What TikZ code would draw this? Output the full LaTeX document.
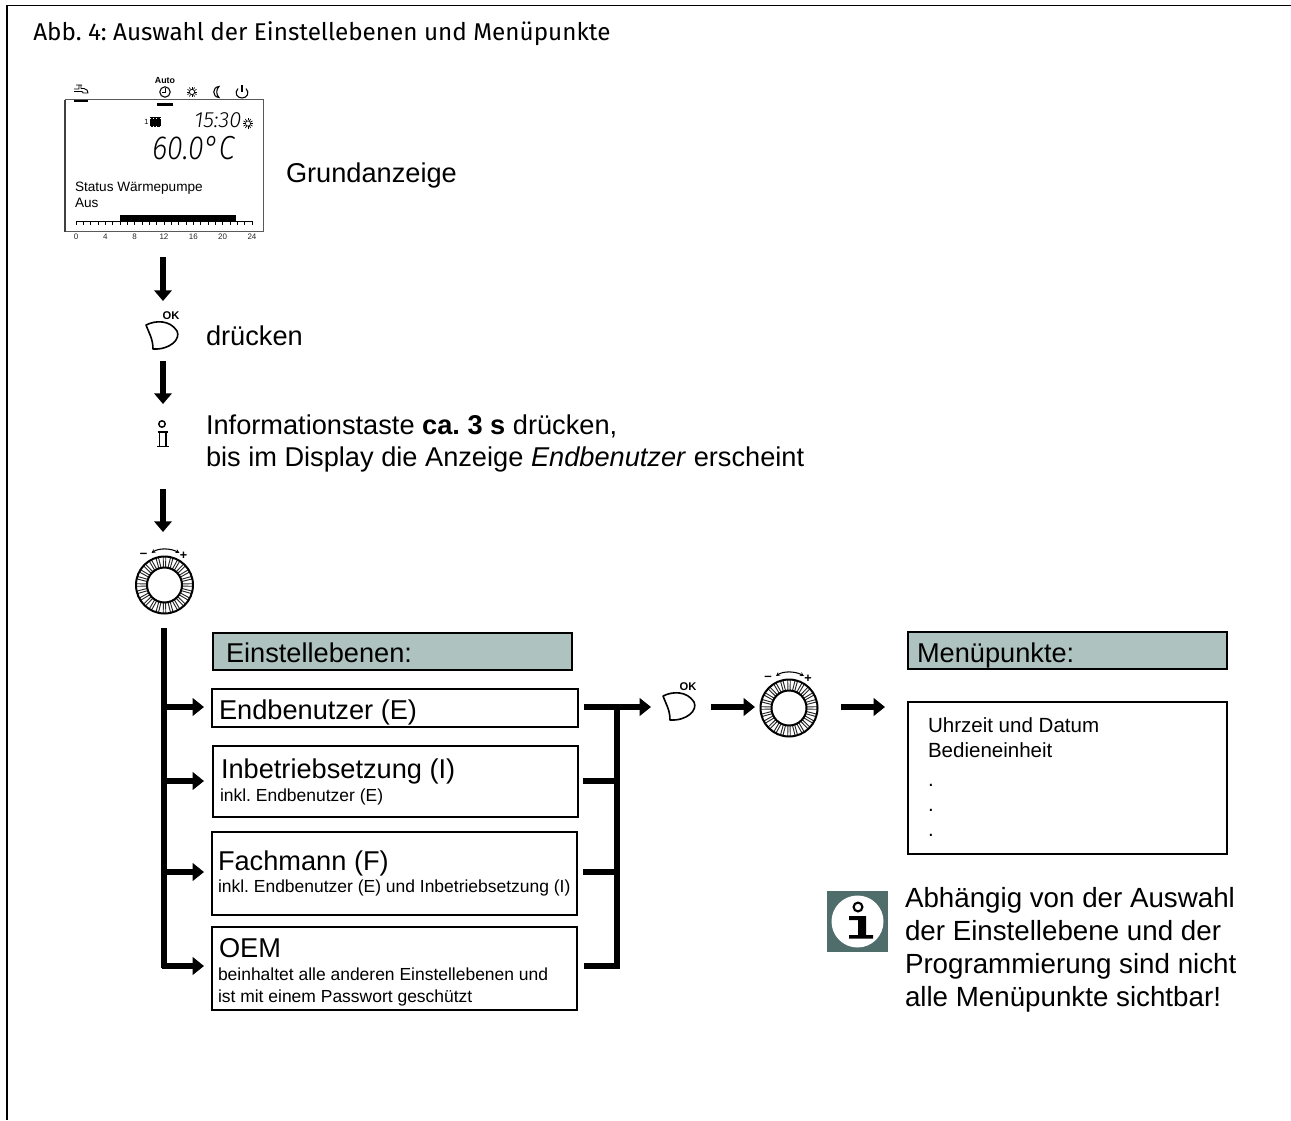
\documentclass[tikz,border=0pt]{standalone}
\usepackage{fontspec}
\setmainfont{Liberation Sans}
\newfontfamily\titlefont{Fira Sans}
\newfontfamily\lcdfont{Fira Sans Light Italic}
\usetikzlibrary{arrows.meta,calc}
\definecolor{headfill}{HTML}{AEC2BF}
\definecolor{iconfill}{HTML}{4F6D6B}
\newcommand{\fsz}[1]{\fontsize{#1pt}{#1pt}\selectfont}
\newcommand{\boxat}[6]{\node[boxst,fill=#6,minimum width={(#4-#2)*0.75pt},minimum height={(#5-#3)*0.75pt}] (#1) at ({(#2+#4)/2},{(#3+#5)/2}) {};}
\tikzset{
  x=0.75pt,y=-0.75pt,
  boxst/.style={draw=black,line width=0.95pt,inner sep=0pt,outer sep=0pt},
  big/.style={anchor=base west,inner sep=0pt,outer sep=0pt,font=\fsz{20.4}},
  note/.style={anchor=base west,inner sep=0pt,outer sep=0pt,font=\fsz{20.8}},
  small/.style={anchor=base west,inner sep=0pt,outer sep=0pt,font=\fsz{13.1}},
  list/.style={anchor=base west,inner sep=0pt,outer sep=0pt,font=\fsz{15.4}},
  disp/.style={anchor=base west,inner sep=0pt,outer sep=0pt,font=\fsz{10.2}},
  tiny/.style={anchor=center,inner sep=0pt,outer sep=0pt,font=\fsz{6},text=black!85},
  varr/.style={line width=3.9pt,-{Triangle[length=8pt,width=13pt]}},
  bar/.style={line width=3.9pt},
  harr/.style={line width=3.9pt,-{Triangle[length=8.5pt,width=13pt]}},
  okbtn/.pic={
    \draw[line width=1.2pt,line join=round] (0,0) .. controls (10,-5) and (24,-5) .. (31,6)
      .. controls (35,14) and (24,25) .. (7,24) .. controls (7,14) and (3,8) .. (0,0) -- cycle;
    \node[inner sep=0pt,font=\bfseries\fsz{8.4}] (-ok) at (25,-9) {OK};
  },
  dialpic/.pic={
    \foreach \a in {0,15,...,345}{
      \draw[line width=0.7pt,black!85] ({\a-3.6}:18) -- ({\a-2.6}:28);
      \draw[line width=0.7pt,black!85] ({\a+3.6}:18) -- ({\a+2.6}:28);
    }
    \draw[line width=1.5pt] (0,0) circle [radius=28.5];
    \draw[line width=1.5pt] (0,0) circle [radius=17.5];
    \draw[line width=0.8pt,{Stealth[length=3pt,width=3pt]}-{Stealth[length=3pt,width=3pt]}] (-13,-32) .. controls (-6,-37) and (6,-37) .. (15,-32);
    \node[inner sep=0pt,font=\bfseries\fsz{10}] (-m) at (-21,-29.5) {–};
    \node[inner sep=0pt,font=\bfseries\fsz{9.5}] (-p) at (19,-29.5) {+};
  },
  sunpic/.pic={
    \draw[line width=0.5pt] (0,0) circle [radius=2.6];
    \foreach \a in {0,30,...,330}\draw[line width=0.5pt] (\a:3) -- (\a:5.2);
  }
}
\begin{document}
\frenchspacing
\begin{tikzpicture}
\useasboundingbox (0,0) rectangle (1291,1120);
% frame
\draw[line width=1.1pt,black] (7,1120) -- (7,5.5) -- (1291,5.5);
\node[anchor=base west,inner sep=0pt,font=\titlefont\fsz{18.2}] (title) at (33,41) {Abb. 4: Auswahl der Einstellebenen und Menüpunkte};

% display
\node[draw=black!65,line width=0.75pt,inner sep=0pt,outer sep=0pt,minimum width={198*0.75pt},minimum height={131.5*0.75pt}] (display) at (164,165.5) {};
\draw[line width=1.2pt,black!75] (65,232) -- (65,100);
\fill (74,100) rectangle (88,102.2);
\fill (157,103.5) rectangle (173,106.5);
% tap icon
\draw[line width=0.7pt,line join=round] (74,89) -- (79,89) -- (79,85) (76,85) -- (82,85) (81,85) -- (81,88.5) -- (84,88.5) .. controls (87,89) and (88,91) .. (88,93) -- (83,93) .. controls (83,92) and (82.5,91.5) .. (81,91.5) -- (74,91.5);
% clock
\node[inner sep=0pt,font=\bfseries\fsz{6.6}] (auto) at (165,80.7) {Auto};
\draw[line width=0.8pt] (165,92) circle [radius=5.2];
\draw[line width=1.1pt] (165.5,88) -- (165.5,92.3) -- (161.5,92.3);
\pic (sunA) at (192,92) {sunpic};
\draw[line width=0.8pt] (219,86.5) .. controls (212,87) and (212,97) .. (219,97.5) .. controls (216,95) and (216,89) .. (219,86.5) -- cycle;
\draw[line width=0.8pt] (238,88.5) .. controls (234,93) and (237,98) .. (242,98) .. controls (247,98) and (250,93) .. (246,88.5);
\draw[line width=1.2pt] (242,85) -- (242,92);
% heater icon
\node[inner sep=0pt,font=\fsz{5.6}] (one) at (146.5,122) {1};
\fill (150,117) rectangle (161,127);
\draw[white,line width=0.4pt,dotted] (150,118) -- (161,118) (150,126) -- (161,126);
\node[anchor=base west,inner sep=0pt,font=\lcdfont\fsz{16.5}] (clocktxt) at (194,127.5) {15:30};
\pic (sunB) at (248,123.5) {sunpic};
\node[anchor=base west,inner sep=0pt,font=\lcdfont\fsz{25}] (temp) at (152,160) {\scalebox{0.86}[1]{60.0°C}};
\node[disp] (st1) at (75,191) {Status Wärmepumpe};
\node[disp] (st2) at (75,207) {Aus};
\fill (120,215) rectangle (236,221);
\draw[line width=0.6pt] (76,224.5) -- (76,221) -- (252,221) -- (252,224.5);
\foreach \i in {1,...,23}\draw[line width=0.6pt] ({76+\i*7.333},221) -- ({76+\i*7.333},224.5);
\foreach \i in {0,4,...,24}\node[tiny] (hour\i) at ({76+\i*7.333},236.5) {\i};

\node[big] (grund) at (286,182) {Grundanzeige};

% left column
\coordinate (a1s) at (163,257); \coordinate (a1e) at (163,301);
\draw[varr] (a1s) -- (a1e);
\pic (ok1) at (146,325) {okbtn};
\node[big] (druecken) at (206,345) {drücken};
\coordinate (a2s) at (163,361); \coordinate (a2e) at (163,404);
\draw[varr] (a2s) -- (a2e);
% info key
\draw[line width=1.1pt] (162,424) circle [radius=3.2];
\draw[line width=1.1pt,line join=miter] (157.5,432) -- (168,432) (159.5,432) -- (159.5,446) (166,432) -- (166,446) (157,446.3) -- (169,446.3);
\node[big] (info1) at (206,434) {Informationstaste \textbf{ca. 3 s} drücken,};
\node[big] (info2) at (206,466) {bis im Display die Anzeige \textit{Endbenutzer} erscheint};
\coordinate (a3s) at (163,489); \coordinate (a3e) at (163,532);
\draw[varr] (a3s) -- (a3e);
\pic (dial1) at (164.5,585) {dialpic};

% boxes
\boxat{hEin}{213}{633}{572}{670}{headfill}
\node[big] (hEinT) at (226,662) {Einstellebenen:};
\boxat{bE}{212}{689}{578}{727}{white}
\node[big] (bET) at (219,719) {Endbenutzer (E)};
\boxat{bI}{213}{746}{578}{817}{white}
\node[big] (bIT) at (221,778) {Inbetriebsetzung (I)};
\node[small] (bIS) at (220,801) {inkl. Endbenutzer (E)};
\boxat{bF}{212}{832}{577}{915}{white}
\node[big] (bFT) at (218,870) {Fachmann (F)};
\node[small] (bFS) at (218,892) {inkl. Endbenutzer (E) und Inbetriebsetzung (I)};
\boxat{bO}{212}{927}{577}{1010}{white}
\node[big] (bOT) at (219,957) {OEM};
\node[small] (bOS1) at (218,980) {beinhaltet alle anderen Einstellebenen und};
\node[small] (bOS2) at (218,1002) {ist mit einem Passwort geschützt};

% left trunk
\coordinate (tTop) at (164,628);
\coordinate (t1) at (164,707); \coordinate (t2) at (164,781);
\coordinate (t3) at (164,872); \coordinate (t4) at (164,966);
\coordinate (e1) at (204,707); \coordinate (e2) at (204,781);
\coordinate (e3) at (204,872); \coordinate (e4) at (204,966);
\draw[bar] (tTop) -- ($(t4)+(0,1.9)$);
\draw[harr] (t1) -- (e1);
\draw[harr] (t2) -- (e2);
\draw[harr] (t3) -- (e3);
\draw[harr] ($(t4)+(-2.5,0)$) -- (e4);

% right collector
\coordinate (r1) at (584,707); \coordinate (r2) at (583,781);
\coordinate (r3) at (583,872); \coordinate (r4) at (584,966);
\coordinate (c1) at (617,707); \coordinate (c2) at (617,781);
\coordinate (c3) at (617,872); \coordinate (c4) at (617,966);
\coordinate (f1) at (651,707);
\draw[harr] (r1) -- (f1);
\draw[bar] (c1) -- ($(c4)+(0,2.5)$);
\draw[bar] (r2) -- (c2);
\draw[bar] (r3) -- (c3);
\draw[bar] (r4) -- (c4);

\pic (ok2) at (663,696) {okbtn};
\coordinate (g1) at (711,707); \coordinate (g2) at (755,707);
\draw[harr] (g1) -- (g2);
\pic (dial2) at (789,708) {dialpic};
\coordinate (g3) at (841,707); \coordinate (g4) at (885,707);
\draw[harr] (g3) -- (g4);

% menu
\boxat{hMen}{908}{632}{1227}{669}{headfill}
\node[big] (hMenT) at (917,662) {Menüpunkte:};
\boxat{bMen}{908}{702}{1227}{854}{white}
\node[list] (m1) at (928,732) {Uhrzeit und Datum};
\node[list] (m2) at (928,757) {Bedieneinheit};
\node[list] (m3) at (928,786) {.};
\node[list] (m4) at (928,811) {.};
\node[list] (m5) at (928,836) {.};

% info icon
\fill[iconfill] (827,891) rectangle (888,952);
\fill[white] (857.5,921.5) circle [radius=26];
\draw[line width=1.6pt] (858,907) circle [radius=4.4];
\fill (849,916) -- (866,916) -- (866,935) -- (873,935) -- (873,938.5) -- (849,938.5) -- (849,935) -- (858,935) -- (858,920) -- (849,920) -- cycle;

\node[note] (n1) at (905,907) {Abhängig von der Auswahl};
\node[note] (n2) at (905,940) {der Einstellebene und der};
\node[note] (n3) at (905,973) {Programmierung sind nicht};
\node[note] (n4) at (905,1006) {alle Menüpunkte sichtbar!};
\end{tikzpicture}
\end{document}
